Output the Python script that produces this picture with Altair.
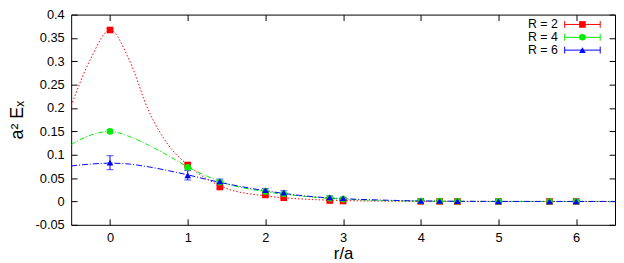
import altair as alt
import pandas as pd

series = ["R = 2", "R = 4", "R = 6"]
colors = ["#ff0000", "#00ee00", "#0000ff"]
shapes = ["square", "circle", "triangle-up"]

r_vals = [0, 1, 1.414, 2, 2.236, 2.828, 3, 4, 4.243, 4.472, 5, 5.657, 6]
r2_vals = [0.367, 0.078, 0.031, 0.014, 0.008, 0.002, 0.001, 0.0002, 0.0001, 0.0, 0.0, 0.0, 0.0]
r2_err = [0.003, 0.004, 0.003, 0.002, 0.002, 0.001, 0.001, 0.0005, 0.0005, 0.0005, 0.0005, 0.0005, 0.0005]
r4_vals = [0.150, 0.073, 0.041, 0.021, 0.016, 0.007, 0.005, 0.001, 0.0006, 0.0004, 0.0001, 0.0, 0.0]
r4_err = [0.003, 0.004, 0.003, 0.002, 0.002, 0.001, 0.001, 0.0005, 0.0005, 0.0005, 0.0005, 0.0005, 0.0005]
r6_vals = [0.083, 0.056, 0.043, 0.024, 0.019, 0.009, 0.007, 0.0015, 0.001, 0.0007, 0.0002, 0.0, 0.0]
r6_err = [0.015, 0.010, 0.005, 0.004, 0.004, 0.003, 0.002, 0.001, 0.001, 0.001, 0.0005, 0.0005, 0.0005]

curve_x = [-0.5, -0.25, 0, 0.25, 0.5, 0.75, 1, 1.25, 1.5, 2, 2.5, 3, 3.5, 4, 5, 6.5]
curve_r2 = [0.205, 0.305, 0.367, 0.302, 0.193, 0.121, 0.078, 0.048, 0.028, 0.012, 0.005, 0.002, 0.0008, 0.0003, 0.0, 0.0]
curve_r4 = [0.122, 0.142, 0.150, 0.139, 0.120, 0.098, 0.074, 0.054, 0.038, 0.021, 0.011, 0.005, 0.002, 0.0008, 0.0001, 0.0]
curve_r6 = [0.076, 0.080, 0.082, 0.080, 0.074, 0.066, 0.057, 0.047, 0.038, 0.023, 0.012, 0.006, 0.003, 0.0012, 0.0001, 0.0]

x_ticks = [0, 1, 2, 3, 4, 5, 6]
y_ticks = [-0.05, 0, 0.05, 0.1, 0.15, 0.2, 0.25, 0.3, 0.35, 0.4]

W, H = 551, 213
FONT = "Liberation Sans"

rows = []
for s, vals, errs in zip(series, [r2_vals, r4_vals, r6_vals], [r2_err, r4_err, r6_err]):
    for r, v, e in zip(r_vals, vals, errs):
        rows.append({"series": s, "r": r, "v": v, "lo": v - e, "hi": v + e})
pts = pd.DataFrame(rows)

crows = []
for s, vals in zip(series, [curve_r2, curve_r4, curve_r6]):
    for x, v in zip(curve_x, vals):
        crows.append({"series": s, "r": x, "v": v})
curves = pd.DataFrame(crows)

xscale = alt.Scale(domain=[-0.5, 6.5], nice=False, zero=False)
yscale = alt.Scale(domain=[-0.05, 0.4], nice=False, zero=False)
cscale = alt.Scale(domain=series, range=colors)
sscale = alt.Scale(domain=series, range=shapes)
dscale = alt.Scale(domain=series, range=[[1.5, 2], [5, 2, 1, 2], [6, 2, 1, 2]])

xaxis = alt.Axis(values=x_ticks, title="r/a", format="d", grid=True, gridDash=[6, H - 12, 6],
                 gridColor="black", gridOpacity=1, gridWidth=1,
                 ticks=False, domain=False, labelPadding=7, titlePadding=1,
                 titleFontSize=17, titleFontWeight="normal", labelFontSize=13,
                 labelOverlap=False, labelBound=False, labelFont=FONT, titleFont=FONT,
                 labelColor="black", titleColor="black")
yaxis = alt.Axis(values=y_ticks, title="a² Eₓ", grid=True, gridDash=[6, W - 12, 6],
                 gridColor="black", gridOpacity=1, gridWidth=1,
                 ticks=False, domain=False, labelPadding=7, titlePadding=9,
                 titleFontSize=18, titleFontWeight="normal", labelFontSize=13,
                 labelOverlap=False, labelBound=False, labelFont=FONT, titleFont=FONT,
                 labelColor="black", titleColor="black",
                 labelExpr="replace(format(datum.value, '.2~f'), '\u2212', '-')")

X = lambda f: alt.X(f, scale=xscale, axis=xaxis, title="r/a")
Y = lambda f: alt.Y(f, scale=yscale, axis=yaxis, title="a² Eₓ")

lines = alt.Chart(curves).mark_line(strokeWidth=1, interpolate="monotone", clip=True).encode(
    x=X("r:Q"),
    y=Y("v:Q"),
    color=alt.Color("series:N", scale=cscale, legend=None),
    strokeDash=alt.StrokeDash("series:N", scale=dscale, legend=None),
    detail="series:N",
)

err = alt.Chart(pts).mark_rule(strokeWidth=1).encode(
    x=X("r:Q"),
    y=Y("lo:Q"),
    y2="hi:Q",
    color=alt.Color("series:N", scale=cscale, legend=None),
)
cap_lo = alt.Chart(pts).mark_tick(orient="horizontal", size=7, thickness=1).encode(
    x=X("r:Q"),
    y=Y("lo:Q"),
    color=alt.Color("series:N", scale=cscale, legend=None),
)
cap_hi = alt.Chart(pts).mark_tick(orient="horizontal", size=7, thickness=1).encode(
    x=X("r:Q"),
    y=Y("hi:Q"),
    color=alt.Color("series:N", scale=cscale, legend=None),
)

markers = alt.Chart(pts).mark_point(filled=True, opacity=1, size=45).encode(
    x=X("r:Q"),
    y=Y("v:Q"),
    color=alt.Color("series:N", scale=cscale, legend=None),
    shape=alt.Shape("series:N", scale=sscale, legend=None),
    order=alt.Order("series:N"),
)

# legend (top right, inside the plot)
leg_layers = []
leg_y = [10, 23, 36]
for s, c, sh, ly in zip(series, colors, shapes, leg_y):
    one = pd.DataFrame({"series": [s]})
    leg_layers.append(alt.Chart(one).mark_text(align="right", baseline="middle",
                                               fontSize=12.5, font=FONT, color="black").encode(
        x=alt.value(493), y=alt.value(ly), text="series:N"))
    leg_layers.append(alt.Chart(one).mark_rule(color=c, strokeWidth=1).encode(
        x=alt.value(500), x2=alt.value(536), y=alt.value(ly)))
    for cx in (500, 536):
        leg_layers.append(alt.Chart(one).mark_rule(color=c, strokeWidth=1).encode(
            x=alt.value(cx), y=alt.value(ly - 3.5), y2=alt.value(ly + 3.5)))
    leg_layers.append(alt.Chart(one).mark_point(filled=True, opacity=1, size=45, color=c, shape=sh).encode(
        x=alt.value(518), y=alt.value(ly)))

chart = alt.layer(lines, err, cap_lo, cap_hi, markers, *leg_layers).properties(
    width=W, height=H,
    background="white",
    autosize=alt.AutoSizeParams(type="none"),
    padding={"left": 64, "top": 5, "right": 1, "bottom": 37},
).configure_view(stroke="black", strokeWidth=1)

chart.save("out.html", embed_options={"renderer": "svg", "actions": False})
